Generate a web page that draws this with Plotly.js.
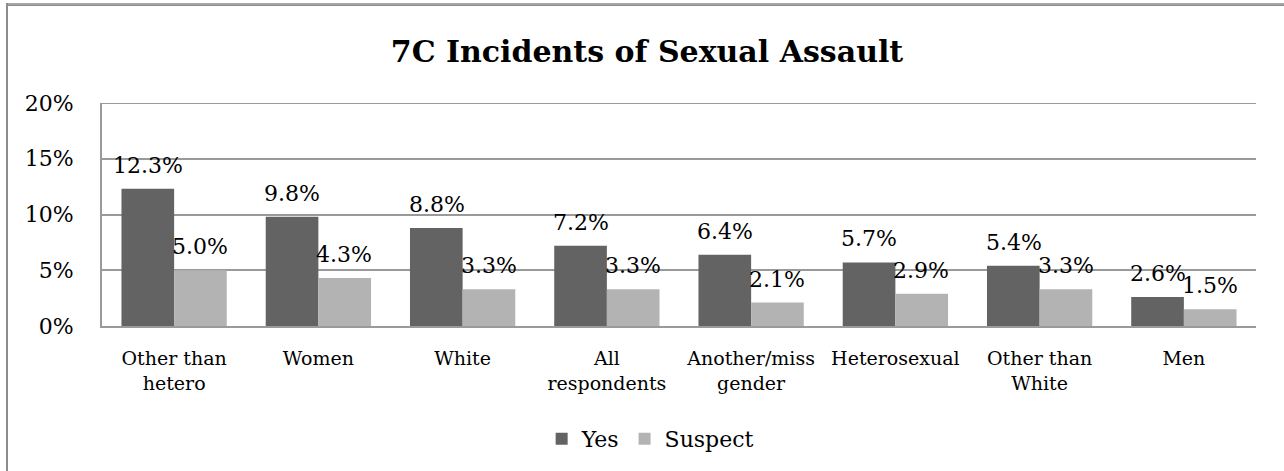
<!DOCTYPE html>
<html>
<head>
<meta charset="utf-8">
<script src="https://cdn.plot.ly/plotly-3.0.1.min.js"></script>
<style>
  html, body { margin: 0; padding: 0; background: #fff; }
  #wrap { position: relative; width: 1284px; height: 471px; overflow: hidden; }
  #chart { position: absolute; left: 0; top: 0; width: 1284px; height: 471px; }
  .frame-top { position: absolute; left: 6px; top: 3px; width: 1278px; height: 3px; background: #a6a6a6; border-bottom: 1px solid #8c8c8c; box-sizing: border-box; }
  .frame-left { position: absolute; left: 6px; top: 3px; width: 2px; height: 468px; background: #8c8c8c; }
</style>
</head>
<body>
<div id="wrap">
  <div id="chart"></div>
  <div class="frame-top"></div>
  <div class="frame-left"></div>
</div>
<script>
// Categories and series values (percent)
const categories = [
  "Other than<br>hetero", "Women", "White", "All<br>respondents",
  "Another/miss<br>gender", "Heterosexual", "Other than<br>White", "Men"
];
const yesValues = [12.3, 9.8, 8.8, 7.2, 6.4, 5.7, 5.4, 2.6];
const suspectValues = [5.0, 4.3, 3.3, 3.3, 2.1, 2.9, 3.3, 1.5];
const yTickValues = [0, 5, 10, 15, 20];
const yTickLabels = ["0%", "5%", "10%", "15%", "20%"];

const serif = "DejaVu Serif, Liberation Serif, serif";
const yesColor = "#636363";
const suspectColor = "#b3b3b3";
const gridColor = "#9a9a9a";
const yMax = yTickValues[yTickValues.length - 1];

const traces = [
  { type: "bar", name: "Yes", x: categories, y: yesValues,
    marker: { color: yesColor }, hoverinfo: "skip" },
  { type: "bar", name: "Suspect", x: categories, y: suspectValues,
    marker: { color: suspectColor }, hoverinfo: "skip" }
];

// value labels above each bar, shifted onto its half of the group
function labels(values, shift) {
  return values.map((v, i) => ({
    x: categories[i], y: v, xref: "x", yref: "y",
    text: v.toFixed(1) + "%", showarrow: false,
    xanchor: "center", yanchor: "bottom", xshift: shift, yshift: 9,
    font: { family: serif, size: 22, color: "#000" }
  }));
}

const layout = {
  width: 1284, height: 471,
  margin: { l: 102, r: 28, t: 103, b: 144 },
  paper_bgcolor: "#fff", plot_bgcolor: "#fff",
  title: {
    text: "<b>7C Incidents of Sexual Assault</b>",
    font: { family: serif, size: 30, color: "#000" },
    x: 647 / 1284, xref: "container", xanchor: "center",
    y: 1 - 51 / 471, yref: "container", yanchor: "middle"
  },
  barmode: "group", bargap: 0.27, bargroupgap: 0,
  xaxis: {
    type: "category", tickangle: 0,
    showline: true, linecolor: gridColor, linewidth: 2,
    ticks: "", ticklabelstandoff: 14,
    tickfont: { family: serif, size: 19, color: "#000" },
    showgrid: false, zeroline: false
  },
  yaxis: {
    range: [0, yMax], tickvals: yTickValues, ticktext: yTickLabels,
    showline: true, linecolor: gridColor, linewidth: 2,
    showgrid: true, gridcolor: gridColor, gridwidth: 2,
    zeroline: false, ticks: "", ticklabelstandoff: 22,
    tickfont: { family: serif, size: 22, color: "#000" }
  },
  // top gridline sits on the edge of the plot area, so draw it explicitly
  shapes: [{
    type: "line", xref: "paper", yref: "y",
    x0: 0, x1: 1, y0: yMax, y1: yMax,
    line: { color: gridColor, width: 2 }, layer: "below"
  }],
  showlegend: true,
  legend: {
    orientation: "h", x: 0.475, xanchor: "center",
    y: -0.5, yanchor: "middle",
    font: { family: serif, size: 22, color: "#000" },
    itemwidth: 30, traceorder: "normal"
  },
  annotations: labels(yesValues, -26).concat(labels(suspectValues, 26))
};

Plotly.newPlot("chart", traces, layout, { staticPlot: true, displayModeBar: false });
</script>
</body>
</html>
